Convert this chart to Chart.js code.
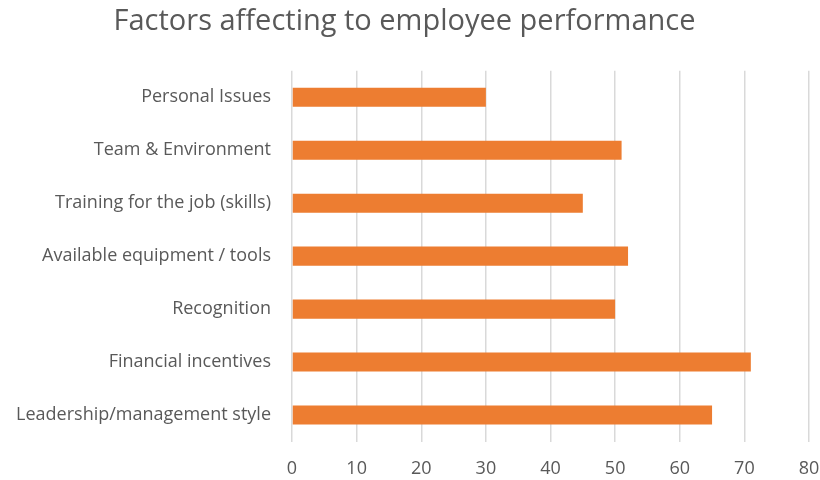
<!DOCTYPE html>
<html lang="en">
<head>
    <meta charset="UTF-8">
    <title>Factors affecting to employee performance</title>
    <script src="https://cdn.jsdelivr.net/npm/chart.js"></script>
    <style>
        body { margin: 0; padding: 0; background: #fff; }
        #wrap { width: 820px; height: 480px; position: relative; }
    </style>
</head>
<body>
<div id="wrap"><canvas id="chart"></canvas></div>
<script>
const categories = [
    'Personal Issues',
    'Team & Environment',
    'Training for the job (skills)',
    'Available equipment / tools',
    'Recognition',
    'Financial incentives',
    'Leadership/management style'
];
const values = [30, 51, 45, 52, 50, 71, 65];
const xTicks = [0, 10, 20, 30, 40, 50, 60, 70, 80];

const textColor = '#595959';
const font = '"Open Sans", Lato, sans-serif';

new Chart(document.getElementById('chart'), {
    type: 'bar',
    data: {
        labels: categories,
        datasets: [{
            data: values,
            backgroundColor: '#ED7D31',
            barPercentage: 0.36,
            categoryPercentage: 1
        }]
    },
    options: {
        indexAxis: 'y',
        responsive: true,
        maintainAspectRatio: false,
        animation: false,
        layout: { padding: { right: 11, left: 0, top: 0, bottom: 0 } },
        plugins: {
            legend: { display: false },
            tooltip: { enabled: false },
            title: {
                display: true,
                text: 'Factors affecting to employee performance',
                color: textColor,
                font: { family: font, size: 29, weight: 'normal' },
                padding: { top: 4, bottom: 32 }
            }
        },
        scales: {
            x: {
                min: 0,
                max: 80,
                afterBuildTicks: s => { s.ticks = xTicks.map(v => ({ value: v })); },
                afterFit: s => { s.height = 38.5; s.paddingRight = 0; s.paddingLeft = 0; },
                grid: { color: '#d9d9d9', lineWidth: 1.5, drawTicks: false },
                border: { display: false },
                ticks: { color: textColor, font: { family: font, size: 18 }, padding: 17 }
            },
            y: {
                afterFit: s => { s.width = 292; s.paddingTop = 0; s.paddingBottom = 0; },
                grid: { display: false },
                border: { display: false },
                ticks: { color: textColor, font: { family: font, size: 18 }, padding: 13 }
            }
        }
    }
});
</script>
</body>
</html>
